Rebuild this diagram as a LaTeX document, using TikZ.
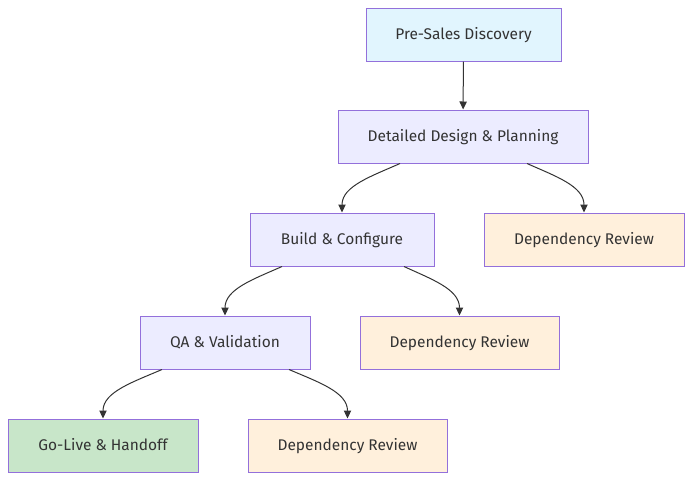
\documentclass[tikz,border=0pt]{standalone}
\usepackage{fontspec}
\setmainfont{Fira Sans}
\usetikzlibrary{arrows.meta}

\definecolor{stepline}{RGB}{147,112,219}
\definecolor{stepfill}{RGB}{236,236,255}
\definecolor{startfill}{RGB}{225,245,254}
\definecolor{depfill}{RGB}{255,240,220}
\definecolor{donefill}{RGB}{200,230,201}
\definecolor{inkgray}{RGB}{51,51,51}

\tikzset{every picture/.style={line width=0.75pt}}
\tikzset{
  phase/.style={draw=stepline, fill=stepfill, text=inkgray, minimum height=39.75pt, inner sep=0.75pt, text height=7.9pt, text depth=0pt, font=\fontsize{11.6}{13}\selectfont},
  flow/.style={draw=inkgray, line width=0.75pt, -{Triangle[length=6pt,width=5.5pt]}}
}

\begin{document}
\begin{tikzpicture}[x=0.75pt,y=0.75pt,yscale=-1,xscale=1]
\useasboundingbox (0,0) rectangle (700,486);

% Phase Nodes
\node [phase, fill=startfill, minimum width=146.25pt] (presales) at (463.5,34.5) {Pre-Sales Discovery};
\node [phase, minimum width=187.5pt] (design) at (463,136.5) {Detailed Design \& Planning};
\node [phase, minimum width=138pt] (build) at (342,239.5) {Build \& Configure};
\node [phase, fill=depfill, minimum width=150pt] (depA) at (584,239.5) {Dependency Review};
\node [phase, minimum width=127.5pt] (qa) at (225,342.5) {QA \& Validation};
\node [phase, fill=depfill, minimum width=149.25pt] (depB) at (459.5,342.5) {Dependency Review};
\node [phase, fill=donefill, minimum width=142.5pt] (golive) at (103,445.5) {Go-Live \& Handoff};
\node [phase, fill=depfill, minimum width=149.25pt] (depC) at (347.5,445.5) {Dependency Review};

% Straight Line
\draw [flow] (presales) -- (design);

% Curve Lines
\draw [flow] (design.south -| 400,0) .. controls (372,176) and (342,186) .. (build.north);
\draw [flow] (design.south -| 527,0) .. controls (555,176) and (584,186) .. (depA.north);
\draw [flow] (build.south -| 282,0) .. controls (254,279) and (225,289) .. (qa.north);
\draw [flow] (build.south -| 404,0) .. controls (431,279) and (459.5,289) .. (depB.north);
\draw [flow] (qa.south -| 162,0) .. controls (133,382) and (103,392) .. (golive.north);
\draw [flow] (qa.south -| 289,0) .. controls (318,382) and (347.5,392) .. (depC.north);

\end{tikzpicture}
\end{document}
